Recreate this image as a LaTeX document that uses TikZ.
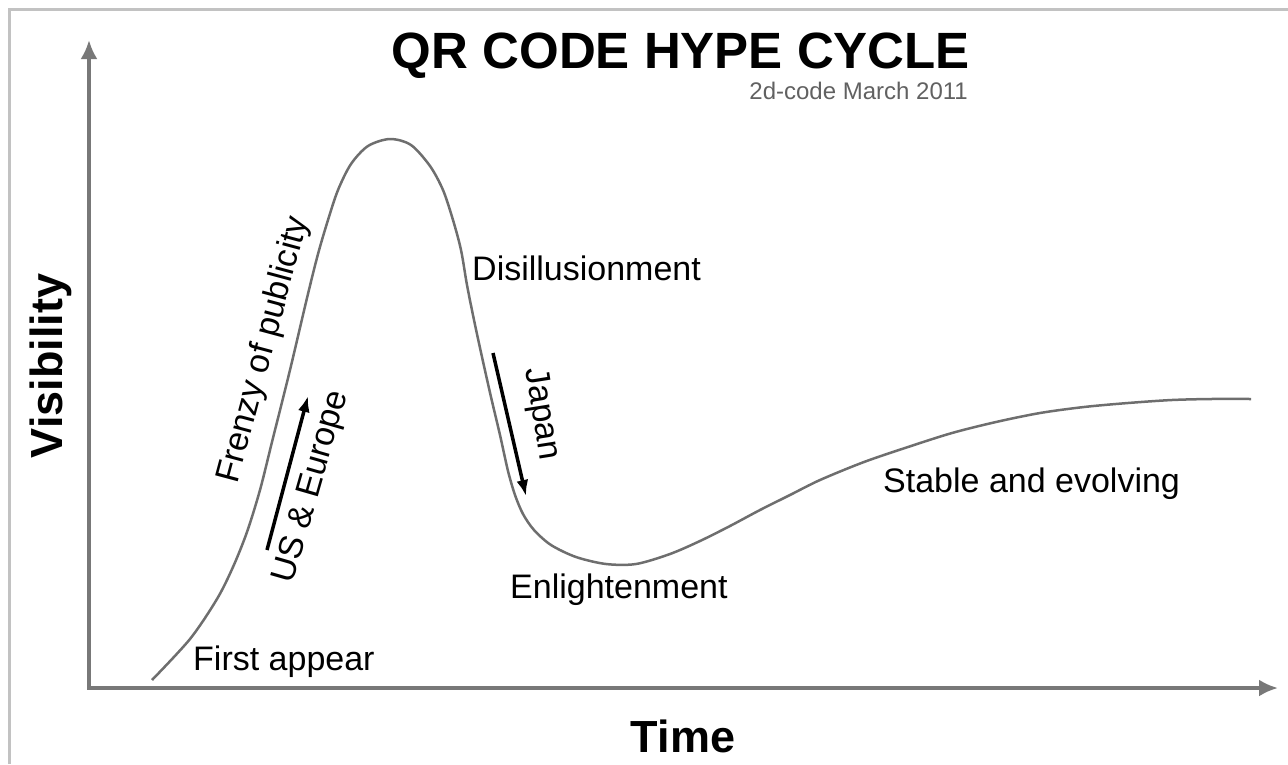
\documentclass[tikz,border=0pt]{standalone}
\usepackage{fontspec}
\setmainfont{Liberation Sans}
\usetikzlibrary{arrows.meta}

\newlength{\du}
\setlength{\du}{1\unitlength}

\definecolor{framegray}{rgb}{0.760000, 0.760000, 0.760000}
\definecolor{axisgray}{rgb}{0.470000, 0.470000, 0.470000}
\definecolor{curvegray}{rgb}{0.430000, 0.430000, 0.430000}
\definecolor{notegray}{rgb}{0.380000, 0.380000, 0.380000}

\tikzset{
  phase/.style={inner sep=0pt, font=\fontsize{34}{40}\selectfont},
  axisname/.style={inner sep=0pt, font=\fontsize{45}{52}\selectfont\bfseries},
  axisline/.style={draw=axisgray, line width=3.5\du},
  axistip/.tip={Latex[length=19pt,width=17pt]},
  trendarrow/.style={draw=black, line width=3.5\du, -{Latex[length=16pt,width=12pt]}}
}

\begin{document}
\begin{tikzpicture}
\pgftransformxscale{1.000000}
\pgftransformyscale{-1.000000}
\useasboundingbox (0\du,0\du) rectangle (1288\du,764\du);
% frame
\draw[framegray, line width=3\du] (9\du,764\du) -- (9\du,9\du) -- (1288\du,9\du);
% axes
\coordinate (ytop) at (89\du,40\du);
\coordinate (origin) at (89\du,688\du);
\coordinate (xend) at (1278\du,688\du);
\draw[axisline, axistip-axistip] (ytop) -- (origin) -- (xend);
% hype curve
\draw[curvegray, line width=2.5\du, line join=round] plot[smooth, tension=0.5] coordinates {
  (152\du,680\du) (190\du,639\du) (217\du,599\du)
  (233\du,567\du) (247\du,532\du) (260\du,490\du) (272\du,442\du) (290\du,370\du)
  (307\du,298\du) (318\du,254\du) (328\du,220\du) (338\du,190\du) (351\du,164\du)
  (368\du,146\du) (390\du,139\du) (411\du,145\du) (430\du,166\du) (443\du,190\du)
  (453\du,220\du) (461\du,250\du) (467\du,285\du) (474\du,320\du) (482\du,357\du)
  (491\du,397\du) (500\du,435\du) (508\du,471\du) (515\du,495\du) (523\du,514\du)
  (534\du,530\du) (551\du,545\du) (576\du,557\du) (606\du,564\du) (636\du,564\du)
  (670\du,554\du) (700\du,541\du) (730\du,526\du) (760\du,510\du) (790\du,495\du)
  (820\du,480\du) (864\du,462\du) (908\du,447\du) (952\du,433\du) (996\du,422\du)
  (1040\du,413\du) (1084\du,407\du) (1128\du,403\du) (1172\du,400\du) (1211\du,399\du)
  (1251\du,399\du)};
% titles
\node[inner sep=0pt, anchor=base, font=\fontsize{51}{58}\selectfont\bfseries] (title) at (681\du,68\du) {QR CODE HYPE CYCLE};
\node[inner sep=0pt, anchor=base east, text=notegray, font=\fontsize{24}{28}\selectfont] (subtitle) at (968\du,99\du) {2d-code March 2011};
\node[axisname, anchor=base, rotate=90] (visibility) at (62\du,366\du) {Visibility};
\node[axisname, anchor=base] (time) at (683\du,752\du) {Time};
% phases
\node[phase, anchor=base west] (first) at (193\du,670\du) {First appear};
\node[phase, rotate=75] (frenzy) at (264\du,350\du) {Frenzy of publicity};
\node[phase, rotate=74] (useu) at (312\du,487\du) {US \& Europe};
\node[phase, anchor=base west] (disill) at (472\du,280\du) {Disillusionment};
\node[phase, rotate=-81] (japan) at (541\du,414\du) {Japan};
\node[phase, anchor=base west] (enlight) at (510\du,598\du) {Enlightenment};
\node[phase, anchor=base west] (stable) at (883\du,492\du) {Stable and evolving};
% trend arrows
\coordinate (useutail) at (267\du,550\du);
\coordinate (useuhead) at (308\du,396\du);
\coordinate (japantail) at (493\du,353\du);
\coordinate (japanhead) at (526\du,496\du);
\draw[trendarrow] (useutail) -- (useuhead);
\draw[trendarrow] (japantail) -- (japanhead);
\end{tikzpicture}
\end{document}
